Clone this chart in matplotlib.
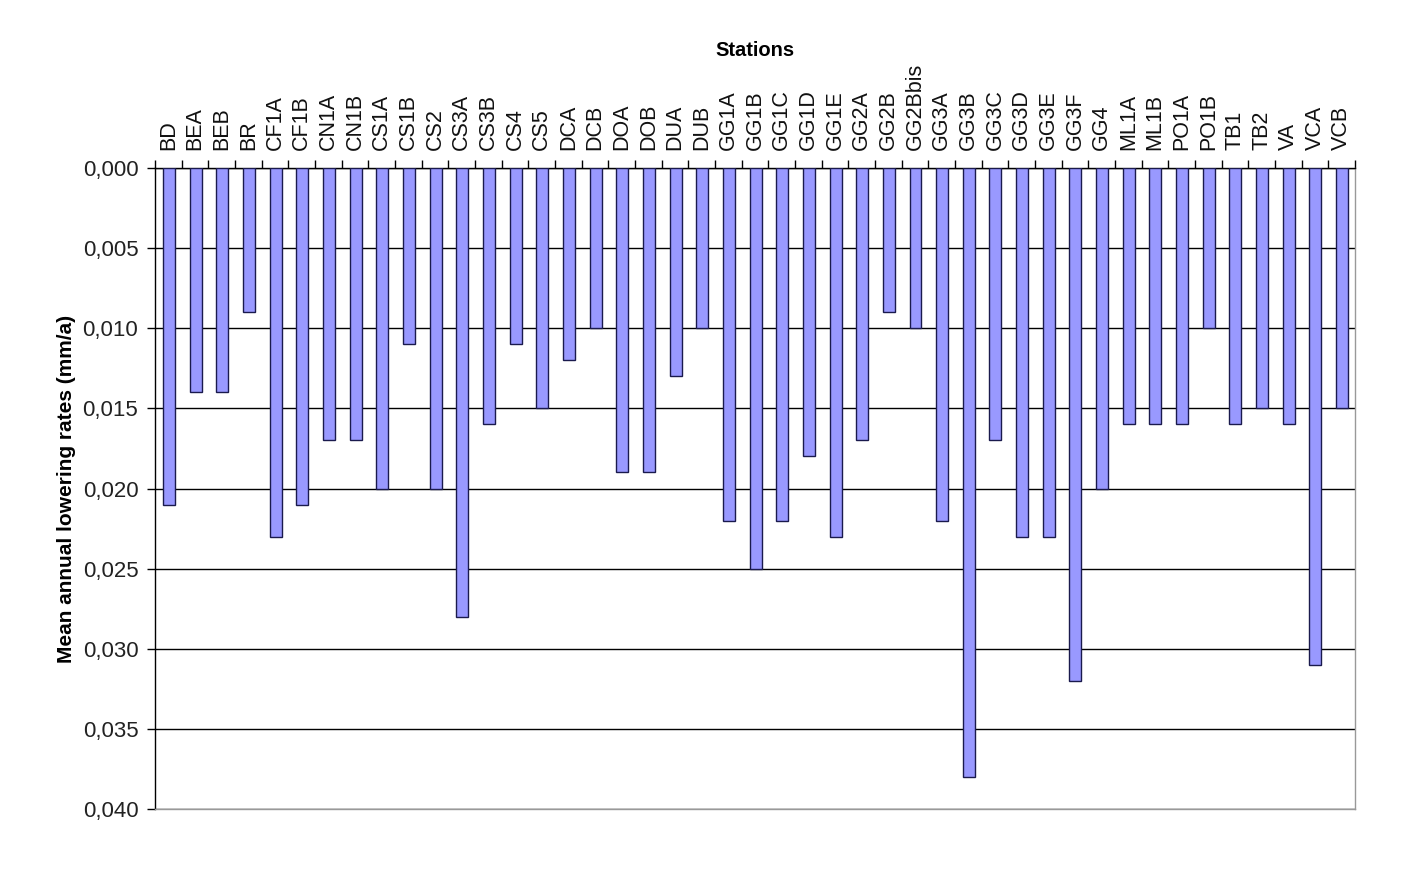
import matplotlib
matplotlib.use("Agg")
import matplotlib.pyplot as plt
from matplotlib.ticker import FuncFormatter, MultipleLocator, FixedLocator
import numpy as np

stations = ["BD", "BEA", "BEB", "BR", "CF1A", "CF1B", "CN1A", "CN1B", "CS1A", "CS1B",
            "CS2", "CS3A", "CS3B", "CS4", "CS5", "DCA", "DCB", "DOA", "DOB", "DUA",
            "DUB", "GG1A", "GG1B", "GG1C", "GG1D", "GG1E", "GG2A", "GG2B", "GG2Bbis",
            "GG3A", "GG3B", "GG3C", "GG3D", "GG3E", "GG3F", "GG4", "ML1A", "ML1B",
            "PO1A", "PO1B", "TB1", "TB2", "VA", "VCA", "VCB"]
rates = [0.021, 0.014, 0.014, 0.009, 0.023, 0.021, 0.017, 0.017, 0.020, 0.011,
         0.020, 0.028, 0.016, 0.011, 0.015, 0.012, 0.010, 0.019, 0.019, 0.013,
         0.010, 0.022, 0.025, 0.022, 0.018, 0.023, 0.017, 0.009, 0.010,
         0.022, 0.038, 0.017, 0.023, 0.023, 0.032, 0.020, 0.016, 0.016,
         0.016, 0.010, 0.016, 0.015, 0.016, 0.031, 0.015]

plt.rcParams['font.family'] = ['Liberation Sans', 'DejaVu Sans']

fig = plt.figure(figsize=(14.17, 8.75), dpi=100)
ax = fig.add_axes([0.1094, 0.0754, 0.8468, 0.7326])

x = np.arange(len(stations))
ax.bar(x + 0.02, rates, width=0.45, color='#9999FF', edgecolor='#1a1a4d', linewidth=1.0, zorder=3)

ax.set_xlim(-0.5, len(stations) - 0.5)
ax.set_ylim(0.040, 0.0)

ax.yaxis.set_major_locator(MultipleLocator(0.005))
ax.yaxis.set_major_formatter(FuncFormatter(lambda v, p: f"{v:.3f}".replace('.', ',')))
ax.grid(axis='y', color='black', linewidth=1.0, zorder=1)
ax.tick_params(axis='y', labelsize=16, length=6, width=1, direction='out', colors='black',
               labelcolor='#222222', pad=6)

ax.xaxis.tick_top()
ax.set_xticks(x)
ax.set_xticklabels(stations, rotation=90, fontsize=15.5, color='#111111')
ax.tick_params(axis='x', which='major', length=0, pad=13)
ax.xaxis.set_minor_locator(FixedLocator(np.arange(-0.5, len(stations), 1.0)))
ax.tick_params(axis='x', which='minor', length=6, width=1, direction='out', top=True, bottom=False)

ax.xaxis.set_label_position('top')
ax.set_xlabel('Stations', fontsize=14.5, fontweight='bold', labelpad=5)
ax.set_ylabel('Mean annual lowering rates (mm/a)', fontsize=15, fontweight='bold', labelpad=5)

for s in ['left', 'top']:
    ax.spines[s].set_color('black')
    ax.spines[s].set_linewidth(1.0)
for s in ['right', 'bottom']:
    ax.spines[s].set_color('#999999')
    ax.spines[s].set_linewidth(1.0)

fig.savefig('out.png', dpi=100, facecolor='white')
